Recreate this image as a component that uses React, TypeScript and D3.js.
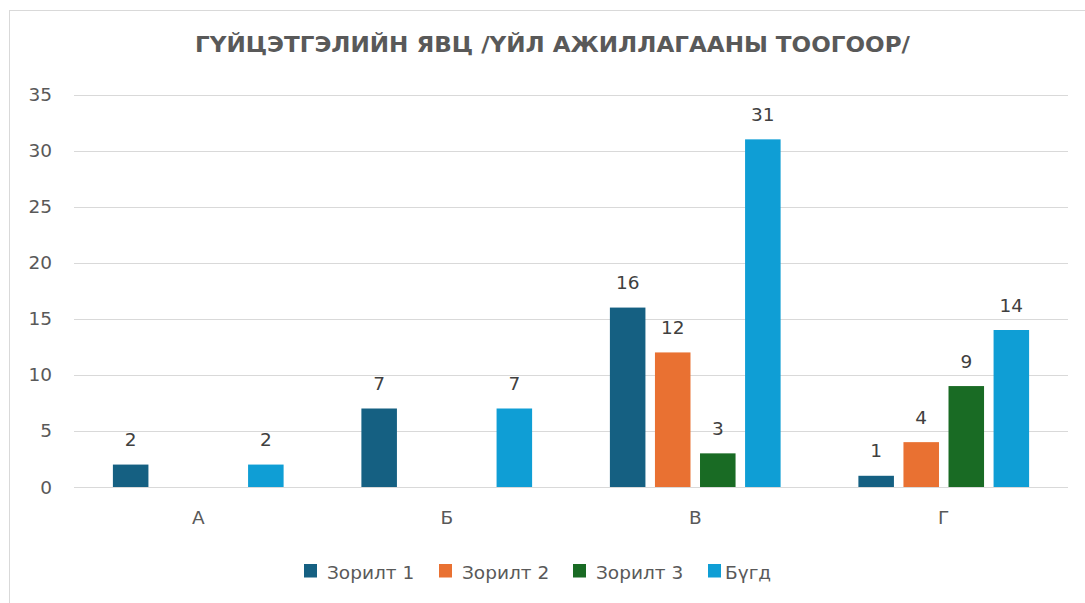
import React from "react";
import * as d3 from "d3";

const title = "ГҮЙЦЭТГЭЛИЙН ЯВЦ /ҮЙЛ АЖИЛЛАГААНЫ ТООГООР/";
const categories = ["А", "Б", "В", "Г"];
const seriesNames = ["Зорилт 1", "Зорилт 2", "Зорилт 3", "Бүгд"];
const zorilt1 = [2, 7, 16, 1];
const zorilt2 = [0, 0, 12, 4];
const zorilt3 = [0, 0, 3, 9];
const bugd = [2, 7, 31, 14];
const yTicks = [0, 5, 10, 15, 20, 25, 30, 35];
const colors = ["#156082", "#E97132", "#196B24", "#0F9ED5"];

const seriesValues = [zorilt1, zorilt2, zorilt3, bugd];

const W = 1085;
const H = 603;
const plotLeft = 74;
const plotRight = 1068;
const plotTop = 94.5;
const plotBottom = 487;
const FONT = "'DejaVu Sans', 'Liberation Sans', Arial, sans-serif";
const TEXT = "#595959";
const FS = 18.5;

export default function App() {
  const x = d3.scaleBand<string>().domain(categories).range([plotLeft, plotRight]).padding(0);
  const y = d3.scaleLinear().domain([0, 35]).range([plotBottom, plotTop]);
  const catW = x.bandwidth();
  const barW = catW * 0.143;
  const step = barW * 1.268;
  const groupW = step * 3 + barW;

  const legendX = [304, 439, 573, 708];
  const legendTextX = [327, 462, 596, 725];

  return (
    <svg
      width={W}
      height={H}
      style={{ position: "absolute", left: 0, top: 0, background: "#fff" }}
    >
      <rect x={9.5} y={10.5} width={1100} height={620} fill="#fff" stroke="#d9d9d9" strokeWidth={1} />
      <text
        x={195}
        y={52}
        textLength={715}
        lengthAdjust="spacingAndGlyphs"
        fontFamily={FONT}
        fontWeight="bold"
        fontSize={20.5}
        fill={TEXT}
      >
        {title}
      </text>
      {yTicks.map((t) => (
        <g key={t}>
          <line
            x1={plotLeft}
            x2={plotRight}
            y1={Math.round(y(t)) + 0.5}
            y2={Math.round(y(t)) + 0.5}
            stroke="#d9d9d9"
            strokeWidth={1}
          />
          <text
            x={52}
            y={y(t) + 6.5}
            textAnchor="end"
            fontFamily={FONT}
            fontSize={FS}
            fill={TEXT}
          >
            {t}
          </text>
        </g>
      ))}
      {categories.map((c, ci) => {
        const cx = (x(c) as number) + catW / 2;
        const start = cx - groupW / 2;
        return (
          <g key={c}>
            {seriesValues.map((vals, si) => {
              const v = vals[ci];
              if (v === 0) return null;
              const bx = start + si * step;
              return (
                <g key={si}>
                  <rect
                    x={bx}
                    y={y(v)}
                    width={barW}
                    height={plotBottom - y(v)}
                    fill={colors[si]}
                  />
                  <text
                    x={bx + barW / 2}
                    y={y(v) - 18.5}
                    textAnchor="middle"
                    fontFamily={FONT}
                    fontSize={FS}
                    fill="#404040"
                  >
                    {v}
                  </text>
                </g>
              );
            })}
            <text
              x={cx}
              y={524}
              textAnchor="middle"
              fontFamily={FONT}
              fontSize={FS}
              fill={TEXT}
            >
              {c}
            </text>
          </g>
        );
      })}
      {seriesNames.map((n, i) => (
        <g key={n}>
          <rect x={legendX[i]} y={564} width={13} height={13.5} fill={colors[i]} />
          <text
            x={legendTextX[i]}
            y={579}
            fontFamily={FONT}
            fontSize={FS}
            fill={TEXT}
          >
            {n}
          </text>
        </g>
      ))}
    </svg>
  );
}
